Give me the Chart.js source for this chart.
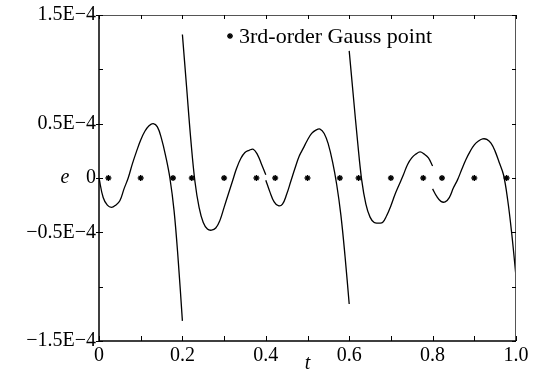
<!DOCTYPE html>
<html>
<head>
<meta charset="utf-8">
<script src="https://cdn.jsdelivr.net/npm/chart.js@4.4.0/dist/chart.umd.min.js"></script>
<style>
  html, body { margin: 0; padding: 0; background: #fff; }
</style>
</head>
<body>
<canvas id="errChart" width="537" height="373"></canvas>
<script>
// error e(t) per element, in units of 1E-4, sampled at elementStart + localT
const elementStart = [0, 0.2, 0.4, 0.6, 0.8];
const localT = [0, 0.01, 0.02, 0.03, 0.04, 0.05, 0.06, 0.07, 0.08, 0.09, 0.1,
                0.11, 0.12, 0.13, 0.14, 0.15, 0.16, 0.17, 0.18, 0.19, 0.2];

const errSeg1 = [0.0, -0.18, -0.25, -0.27, -0.25, -0.21, -0.10, 0.0, 0.13, 0.245, 0.35,
                 0.43, 0.48, 0.50, 0.47, 0.36, 0.20, 0.0, -0.30, -0.76, -1.315];
const errSeg2 = [1.32, 0.84, 0.36, -0.03, -0.27, -0.41, -0.47, -0.48, -0.46, -0.39, -0.27,
                 -0.15, -0.03, 0.09, 0.18, 0.235, 0.255, 0.265, 0.215, 0.125, 0.03];
const errSeg3 = [-0.02, -0.13, -0.22, -0.255, -0.24, -0.15, -0.03, 0.09, 0.20, 0.275, 0.35,
                 0.41, 0.44, 0.45, 0.41, 0.31, 0.15, -0.06, -0.34, -0.72, -1.16];
const errSeg4 = [1.17, 0.75, 0.34, -0.02, -0.24, -0.36, -0.41, -0.415, -0.41, -0.345, -0.255,
                 -0.15, -0.06, 0.03, 0.125, 0.185, 0.22, 0.24, 0.22, 0.185, 0.11];
const errSeg5 = [-0.10, -0.17, -0.215, -0.22, -0.18, -0.09, -0.015, 0.08, 0.17, 0.245, 0.305,
                 0.34, 0.36, 0.355, 0.32, 0.245, 0.14, 0.03, -0.20, -0.52, -0.906];

// 3rd-order Gauss points of each element
const gaussT = [0.0225, 0.1, 0.1775, 0.2225, 0.3, 0.3775, 0.4225, 0.5, 0.5775,
                0.6225, 0.7, 0.7775, 0.8225, 0.9, 0.9775];
const gaussE = [0, 0, 0, 0, 0, 0, 0, 0, 0, 0, 0, 0, 0, 0, 0];

const xTickValues = [0, 0.2, 0.4, 0.6, 0.8, 1.0];
const xTickLabels = ['0', '0.2', '0.4', '0.6', '0.8', '1.0'];
const xMinorTicks = [0, 0.1, 0.2, 0.3, 0.4, 0.5, 0.6, 0.7, 0.8, 0.9, 1.0];
const yTickValues = [-1.5e-4, -1e-4, -0.5e-4, 0, 0.5e-4, 1e-4, 1.5e-4];
const yTickLabels = ['\u22121.5E\u22124', '', '\u22120.5E\u22124', '0', '0.5E\u22124', '', '1.5E\u22124'];

const SCALE = 1e-4;
const serif = '"Liberation Serif", "Times New Roman", serif';

const segments = [errSeg1, errSeg2, errSeg3, errSeg4, errSeg5];
const lineSets = segments.map((vals, k) => ({
    data: localT.map((lt, i) => ({ x: elementStart[k] + lt, y: vals[i] * SCALE })),
    borderColor: '#000',
    borderWidth: 1.3,
    pointRadius: 0,
    fill: false,
    tension: 0.4
}));

const gaussSet = {
    data: gaussT.map((t, i) => ({ x: t, y: gaussE[i] * SCALE })),
    showLine: false,
    pointStyle: 'star',
    pointRadius: 3,
    borderColor: '#000',
    backgroundColor: '#000',
    pointBorderWidth: 1.4
};

const framePlugin = {
    id: 'frame',
    afterDraw(chart) {
        const ctx = chart.ctx;
        const a = chart.chartArea;
        const xs = chart.scales.x, ys = chart.scales.y;
        ctx.save();
        // box
        ctx.strokeStyle = '#555';
        ctx.lineWidth = 1;
        ctx.beginPath();
        ctx.moveTo(a.left, a.top + 0.5); ctx.lineTo(a.right, a.top + 0.5);
        ctx.moveTo(a.right - 0.5, a.top); ctx.lineTo(a.right - 0.5, a.bottom);
        ctx.stroke();
        ctx.strokeStyle = '#000';
        ctx.lineWidth = 1.5;
        ctx.beginPath();
        ctx.moveTo(a.left, a.top); ctx.lineTo(a.left, a.bottom); ctx.lineTo(a.right, a.bottom);
        ctx.stroke();
        // inward ticks
        ctx.lineWidth = 1;
        ctx.beginPath();
        xMinorTicks.forEach(v => {
            const px = Math.round(xs.getPixelForValue(v)) + 0.5;
            ctx.moveTo(px, a.bottom); ctx.lineTo(px, a.bottom - 5);
            ctx.moveTo(px, a.top); ctx.lineTo(px, a.top + 4);
        });
        yTickValues.forEach((v, i) => {
            const py = Math.round(ys.getPixelForValue(v)) + 0.5;
            ctx.moveTo(a.left, py); ctx.lineTo(a.left + 4, py);
            ctx.moveTo(a.right, py); ctx.lineTo(a.right - 4, py);
            if (yTickLabels[i]) { ctx.moveTo(a.left, py); ctx.lineTo(a.left - 3, py); }
        });
        ctx.stroke();
        // axis titles
        ctx.fillStyle = '#000';
        ctx.font = 'italic 20px ' + serif;
        ctx.textAlign = 'center';
        ctx.textBaseline = 'middle';
        ctx.fillText('e', 65, ys.getPixelForValue(0));
        ctx.fillText('t', xs.getPixelForValue(0.5), 364);
        // legend
        const sx = 230, sy = 36, r = 3;
        ctx.lineWidth = 1.3;
        ctx.beginPath();
        ctx.moveTo(sx - r, sy); ctx.lineTo(sx + r, sy);
        ctx.moveTo(sx, sy - r); ctx.lineTo(sx, sy + r);
        ctx.moveTo(sx - r * 0.7, sy - r * 0.7); ctx.lineTo(sx + r * 0.7, sy + r * 0.7);
        ctx.moveTo(sx - r * 0.7, sy + r * 0.7); ctx.lineTo(sx + r * 0.7, sy - r * 0.7);
        ctx.stroke();
        ctx.font = '22px ' + serif;
        ctx.textAlign = 'left';
        ctx.fillText('3rd-order Gauss point', 239, 37);
        ctx.restore();
    }
};

const errChart = new Chart(document.getElementById('errChart').getContext('2d'), {
    type: 'line',
    data: { datasets: [...lineSets, gaussSet] },
    options: {
        responsive: false,
        animation: false,
        devicePixelRatio: 1,
        layout: { padding: { left: 0, right: 21, top: 12, bottom: 0 } },
        plugins: { legend: { display: false }, tooltip: { enabled: false } },
        scales: {
            x: {
                type: 'linear',
                min: 0,
                max: 1,
                grid: { display: false, drawTicks: false },
                border: { display: false },
                afterBuildTicks: s => { s.ticks = xTickValues.map(v => ({ value: v })); },
                afterFit: s => { s.height = 32; },
                ticks: {
                    autoSkip: false,
                    maxRotation: 0,
                    padding: 3,
                    color: '#000',
                    font: { family: serif, size: 20 },
                    callback: (v, i) => xTickLabels[i]
                }
            },
            y: {
                type: 'linear',
                min: -1.5e-4,
                max: 1.5e-4,
                grid: { display: false, drawTicks: false },
                border: { display: false },
                afterBuildTicks: s => { s.ticks = yTickValues.map(v => ({ value: v })); },
                afterFit: s => { s.width = 99; },
                ticks: {
                    autoSkip: false,
                    padding: 3,
                    color: '#000',
                    font: { family: serif, size: 20 },
                    callback: (v, i) => yTickLabels[i]
                }
            }
        }
    },
    plugins: [framePlugin]
});
</script>
</body>
</html>
